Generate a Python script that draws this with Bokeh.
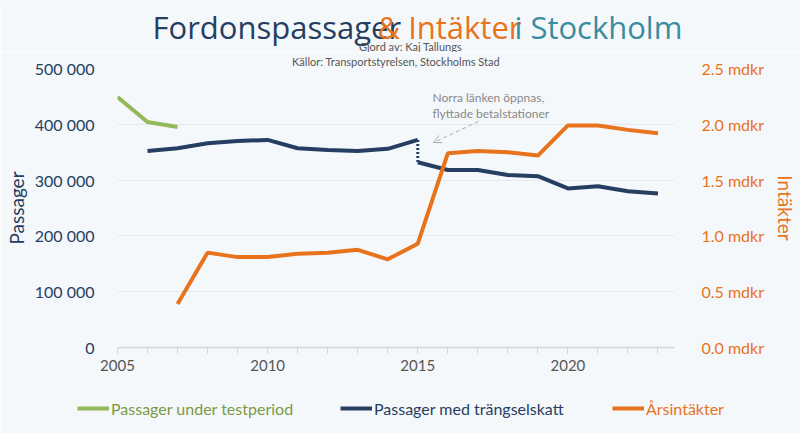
from bokeh.plotting import figure
from bokeh.layouts import column
from bokeh.models import (Range1d, LinearAxis, FixedTicker, Label, Arrow, OpenHead,
                          Legend, LegendItem, Title)
from bokeh.embed import file_html
from bokeh.resources import INLINE

# ---- data ----
years_test = [2005, 2006, 2007]
passager_test = [449000, 404000, 395000]

years_before = [2006, 2007, 2008, 2009, 2010, 2011, 2012, 2013, 2014, 2015]
passager_before = [352000, 357000, 366000, 370000, 372000, 357000, 354000, 352000, 356000, 372000]

years_after = [2015, 2016, 2017, 2018, 2019, 2020, 2021, 2022, 2023]
passager_after = [332000, 318000, 318000, 309000, 307000, 285000, 289000, 280000, 276000]

years_income = [2007, 2008, 2009, 2010, 2011, 2012, 2013, 2014, 2015,
                2016, 2017, 2018, 2019, 2020, 2021, 2022, 2023]
income_mdkr = [0.39, 0.85, 0.81, 0.81, 0.84, 0.85, 0.875, 0.79, 0.93,
               1.74, 1.76, 1.75, 1.72, 1.99, 1.99, 1.95, 1.92]

x_ticks = [2005, 2010, 2015, 2020]
x_minor = list(range(2005, 2024))
left_ticks = [0, 100000, 200000, 300000, 400000, 500000]
left_labels = ["0", "100 000", "200 000", "300 000", "400 000", "500 000"]
right_ticks = [0.0, 0.5, 1.0, 1.5, 2.0, 2.5]
right_labels = ["0.0 mdkr", "0.5 mdkr", "1.0 mdkr", "1.5 mdkr", "2.0 mdkr", "2.5 mdkr"]

title_parts = ["Fordonspassager", "& Intäkter", "i Stockholm"]
subtitle_1 = "Gjord av: Kaj Tallungs"
subtitle_2 = "Källor: Transportstyrelsen, Stockholms Stad"
note_lines = ["Norra länken öppnas,", "flyttade betalstationer"]
legend_labels = ["Passager under testperiod", "Passager med trängselskatt", "Årsintäkter"]

# ---- style ----
BLUE = "#253e62"
ORANGE = "#e8731c"
TEAL = "#3a8ca0"
GREEN = "#92b95a"
GREEN_TXT = "#7a9a45"
BG = "#f5f8fb"
FONT = "Lato"
W = 800
H_HEAD = 52
H_MAIN = 336
H_FOOT = 45


def blank(height, yr):
    f = figure(width=W, height=height, output_backend="svg", toolbar_location=None,
               x_range=Range1d(0, W), y_range=yr, title=None,
               x_axis_location=None, y_axis_location=None,
               min_border=0, min_border_left=0, min_border_right=0,
               min_border_top=0, min_border_bottom=0, frame_align=False)
    f.title_location = None
    f.grid.visible = False
    f.outline_line_color = None
    f.background_fill_color = BG
    f.border_fill_color = BG
    return f


# ---- header (title) ----
head = blank(H_HEAD, Range1d(H_HEAD, 0))
for txt, x, col in zip(title_parts, [152, 377, 514], [BLUE, ORANGE, TEAL]):
    head.add_layout(Label(x=x, y=26, text=txt, text_color=col, text_font="Open Sans",
                          text_font_size="31px", text_align="left",
                          text_baseline="alphabetic"))
head.add_layout(Label(x=410, y=46, text=subtitle_1, text_color="#555555",
                      text_font=FONT, text_font_size="11px", text_align="center",
                      text_baseline="middle"))

# ---- main chart ----
p = figure(width=W, height=H_MAIN, output_backend="svg", toolbar_location=None,
           x_range=Range1d(2005, 2023.55), y_range=Range1d(0, 500000),
           min_border_left=117, min_border_right=121, min_border_top=16, min_border_bottom=41,
           frame_align=False)
p.background_fill_color = BG
p.border_fill_color = BG
p.outline_line_color = None
p.xgrid.grid_line_color = None
p.ygrid.grid_line_color = "#e4e8ec"
p.ygrid.grid_line_width = 1.2
p.extra_y_ranges = {"rev": Range1d(0, 2.5)}
p.add_layout(Title(text=subtitle_2, align="center", offset=10, text_font=FONT,
                   text_font_size="11px", text_font_style="normal",
                   text_color="#555555", standoff=1), "above")

xa = p.xaxis[0]
xa.ticker = FixedTicker(ticks=x_ticks, minor_ticks=x_minor)
xa.axis_line_color = "#cfd8e0"
xa.axis_line_width = 1.5
xa.major_tick_line_color = "#cfd8e0"
xa.minor_tick_line_color = "#cfd8e0"
xa.major_tick_in = 0
xa.major_tick_out = 6
xa.minor_tick_in = 0
xa.minor_tick_out = 6
xa.major_label_text_font = FONT
xa.major_label_text_font_size = "15px"
xa.major_label_text_color = "#555555"
xa.major_label_standoff = 6

ya = p.yaxis[0]
ya.ticker = FixedTicker(ticks=left_ticks)
ya.major_label_overrides = dict(zip(left_ticks, left_labels))
ya.axis_line_color = None
ya.major_tick_line_color = None
ya.minor_tick_line_color = None
ya.major_label_text_font = FONT
ya.major_label_text_font_size = "16px"
ya.major_label_text_color = BLUE
ya.major_label_standoff = 17
ya.axis_label = "Passager"
ya.axis_label_text_font = FONT
ya.axis_label_text_font_size = "19px"
ya.axis_label_text_font_style = "normal"
ya.axis_label_text_color = BLUE
ya.axis_label_standoff = 4

ra = LinearAxis(y_range_name="rev")
ra.ticker = FixedTicker(ticks=right_ticks)
ra.major_label_overrides = dict(zip(right_ticks, right_labels))
ra.axis_line_color = None
ra.major_tick_line_color = None
ra.minor_tick_line_color = None
ra.major_label_text_font = FONT
ra.major_label_text_font_size = "16px"
ra.major_label_text_color = ORANGE
ra.major_label_standoff = 21
ra.axis_label = "Intäkter"
ra.axis_label_text_font = FONT
ra.axis_label_text_font_size = "19px"
ra.axis_label_text_font_style = "normal"
ra.axis_label_text_color = ORANGE
ra.axis_label_standoff = 7
p.add_layout(ra, "right")

p.line(years_test, passager_test, line_color=GREEN, line_width=4)
p.line(years_before, passager_before, line_color=BLUE, line_width=4)
p.line(years_after, passager_after, line_color=BLUE, line_width=4)
p.line([years_before[-1], years_after[0]], [passager_before[-1], passager_after[0]],
       line_color=BLUE, line_width=3, line_dash="2 2")
p.line(years_income, income_mdkr, line_color=ORANGE, line_width=4, y_range_name="rev")

# annotation (screen units relative to frame)
for txt, ys in zip(note_lines, [250, 234]):
    p.add_layout(Label(x=315, y=ys, x_units="screen", y_units="screen", text=txt,
                       text_color="#888888", text_font=FONT, text_font_size="12px",
                       text_align="left", text_baseline="middle"))
p.add_layout(Arrow(x_start=361, y_start=226, x_end=316, y_end=205,
                   start_units="screen", end_units="screen",
                   line_color="#aaaaaa", line_width=1, line_dash="4 3",
                   end=OpenHead(size=8, line_color="#aaaaaa", line_width=1)))

# ---- footer (legend) ----
foot = blank(H_FOOT, Range1d(0, H_FOOT))
for text, lcol, tcol, x0 in [(legend_labels[0], GREEN, GREEN_TXT, 77),
                             (legend_labels[1], BLUE, BLUE, 340),
                             (legend_labels[2], ORANGE, ORANGE, 612)]:
    # off-screen stand-in line so the legend swatch carries the series style
    r = foot.line(x=[-20, -10], y=[-20, -20], line_color=lcol, line_width=4)
    lg = Legend(items=[LegendItem(label=text, renderers=[r])], location=(x0, 15),
                orientation="horizontal", label_text_color=tcol,
                label_text_font=FONT, label_text_font_size="16px",
                glyph_width=32, glyph_height=20, label_height=20, label_standoff=2,
                padding=0, margin=0, spacing=0,
                border_line_alpha=0, background_fill_alpha=0)
    foot.add_layout(lg, "center")

layout = column(head, p, foot, spacing=0)
open("out.html", "w").write(file_html(layout, INLINE))
